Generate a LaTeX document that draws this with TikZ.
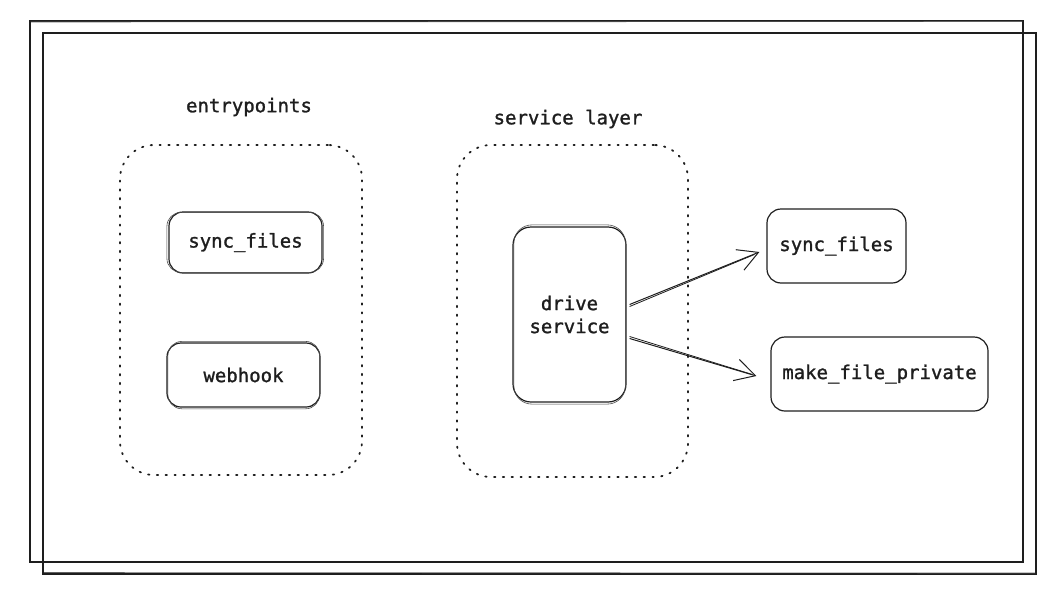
\documentclass[tikz,border=0pt]{standalone}
\usepackage{fontspec}
\newfontfamily\diafont[FakeBold=1.3]{DejaVu Sans Mono}
\usetikzlibrary{arrows.meta}
\definecolor{ink}{HTML}{1E1E1E}
\begin{document}
\begin{tikzpicture}[x=1pt,y=-1pt,
  every node/.style={font=\diafont\fontsize{19}{23}\selectfont, text=ink},
  frame/.style={draw=ink, line width=1.1pt},
  frame2/.style={draw=ink!70, line width=0.6pt},
  group/.style={draw=ink, line width=1.8pt, dash pattern=on 1.4pt off 7.4pt, line cap=round, rounded corners=34pt, inner sep=0pt},
  box/.style={draw=ink, line width=1.2pt, rounded corners=14pt, inner sep=0pt, align=center},
  sk/.style={draw=ink!80, line width=0.6pt, rounded corners=14pt},
  arr/.style={draw=ink, line width=1pt, -{Straight Barb[length=20pt,width=22pt,line width=1pt]}},
  arr2/.style={draw=ink, line width=0.8pt}
]
\useasboundingbox (0,0) rectangle (1059,597);
% outer frames
\draw[frame] (30,21) rectangle (1023,562);
\draw[frame2] (31,22) -- (1022,21.5);
\draw[frame] (43,33) rectangle (1036,574);
\draw[frame2] (44,572.5) -- (1035,573);

% groups
\node[group, minimum width=242pt, minimum height=330pt] (g1) at (241,310) {};
\node[group, minimum width=231pt, minimum height=332pt] (g2) at (572.5,311) {};
\node (l1) at (249,107) {entrypoints};
\node (l2) at (568,119) {service layer};

% boxes
\node[box, minimum width=153pt, minimum height=61pt] (e1) at (245.5,242.5) {sync\_files};
\draw[sk] ([shift={(-1.5,1)}]e1.north west) rectangle ([shift={(1,-1.2)}]e1.south east);
\node[box, minimum width=153pt, minimum height=64pt] (e2) at (243.5,375) {webhook};
\draw[sk] ([shift={(1.5,-1)}]e2.north west) rectangle ([shift={(-1,1.2)}]e2.south east);
\node[box, rounded corners=18pt, minimum width=113pt, minimum height=175pt] (d) at (569.5,314.5) {drive\\service};
\draw[sk, rounded corners=18pt] ([shift={(1.5,-1.5)}]d.north west) rectangle ([shift={(-1.2,1.5)}]d.south east);
\node[box, minimum width=139pt, minimum height=74pt] (s) at (836.5,246) {sync\_files};
\node[box, minimum width=217pt, minimum height=74pt] (m) at (879.5,374) {make\_file\_private};

% arrows
\draw[arr] ([shift={(3,-10)}]d.east) -- ([shift={(-7,6)}]s.west);
\draw[arr2] ([shift={(3,-8)}]d.east) -- ([shift={(-12,8.5)}]s.west);
\draw[arr] ([shift={(3,24)}]d.east) -- ([shift={(-14,2)}]m.west);
\draw[arr2] ([shift={(3,22)}]d.east) -- ([shift={(-18,0.5)}]m.west);
\end{tikzpicture}
\end{document}
